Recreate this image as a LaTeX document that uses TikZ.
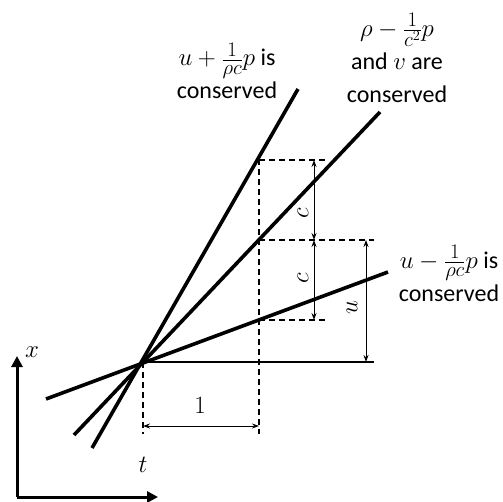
\documentclass[tikz,border=0pt]{standalone}
\usepackage{fontspec}
\setmainfont{Carlito}
\DeclareMathSizes{24}{24}{19.5}{14}
\usetikzlibrary{arrows.meta}
\begin{document}
\begin{tikzpicture}[x=1pt,y=-1pt,
  charline/.style={line width=3.6pt},
  guide/.style={line width=1.3pt, dash pattern=on 6pt off 4pt},
  dim/.style={line width=0.9pt,{Stealth[length=7pt,width=5pt]}-{Stealth[length=7pt,width=5pt]}},
  lbl/.style={font=\fontsize{24}{33}\selectfont, align=center, inner sep=0pt},
  mlbl/.style={font=\fontsize{24}{28}\selectfont, inner sep=0pt},
  ax/.style={line width=3pt,-{Triangle[length=11pt,width=11pt]}}]
\useasboundingbox (0,0) rectangle (503,501);
% points
\coordinate (O) at (143,362);
\coordinate (A1) at (92,448);  \coordinate (A2) at (298,89);
\coordinate (B1) at (74,435);  \coordinate (B2) at (380,112);
\coordinate (C1) at (46,399);  \coordinate (C2) at (388,272);
\coordinate (H) at (374,362);
\coordinate (V0b) at (143,434);
\coordinate (V1t) at (259,159); \coordinate (V1b) at (259,434);
\coordinate (T1) at (326,160); \coordinate (M0) at (259,240); \coordinate (M1) at (374,240);
\coordinate (L0) at (259,320); \coordinate (L1) at (326,320);
\coordinate (c1t) at (314,160); \coordinate (c1b) at (314,240); \coordinate (c2b) at (314,320);
\coordinate (ut) at (366,240); \coordinate (ub) at (366,362);
\coordinate (w0) at (143,426); \coordinate (w1) at (259,426);
\coordinate (ax0) at (17,497); \coordinate (axX) at (17,356); \coordinate (axT) at (158,497);
% characteristic lines
\draw[charline] (A1) -- (A2);
\draw[charline] (B1) -- (B2);
\draw[charline] (C1) -- (C2);
% guides
\draw[line width=1.3pt] (O) -- (H);
\draw[guide] (O) -- (V0b);
\draw[guide] (V1t) -- (V1b);
\draw[guide] (V1t |- T1) -- (T1);
\draw[guide] (M0) -- (M1);
\draw[guide] (L0) -- (L1);
% dimensions
\draw[dim] (c1t) -- (c1b);
\draw[dim] (c1b) -- (c2b);
\draw[dim] (ut) -- (ub);
\draw[dim] (w0) -- (w1);
\node[mlbl, rotate=90] (lc1) at (303,213) {$c$};
\node[mlbl, rotate=90] (lc2) at (303,278) {$c$};
\node[mlbl, rotate=90] (lu) at (352,308) {$u$};
\node[mlbl] (l1) at (200,405) {$1$};
% axes
\draw[ax] (ax0) -- (axX);
\draw[ax] (ax0) -- (axT);
\node[mlbl] (lx) at (32,352) {$x$};
\node[mlbl] (lt) at (143,465) {$t$};
% texts
\node[lbl] (tA) at (227,71) {$u+\frac{1}{\rho c}p$ is\\conserved};
\node[lbl] (tB) at (397,58) {$\rho-\frac{1}{c^2}p$\\and $v$ are\\conserved};
\node[lbl] (tC) at (449,273) {$u-\frac{1}{\rho c}p$ is\\conserved};
\end{tikzpicture}
\end{document}
